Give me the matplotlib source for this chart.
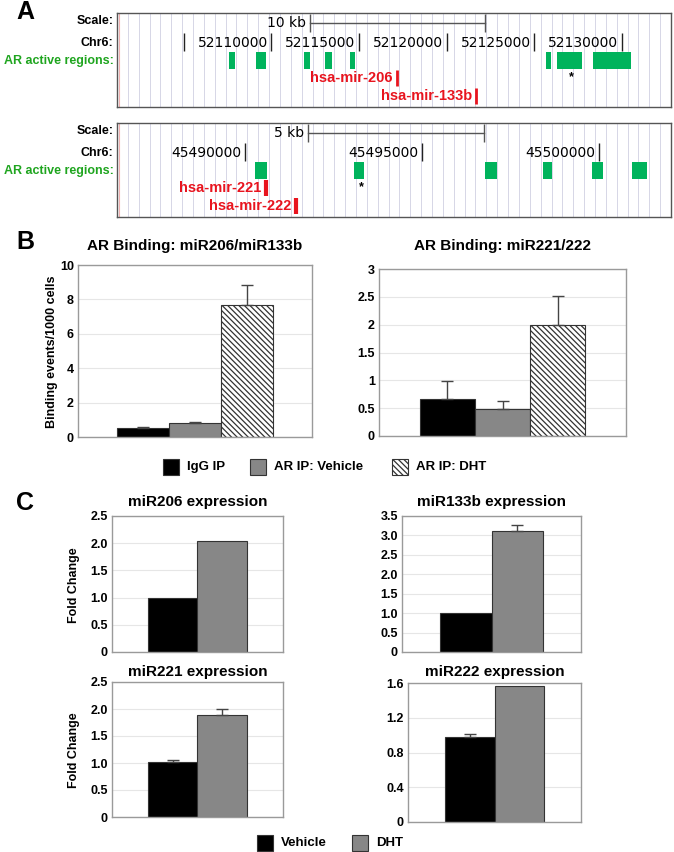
import numpy as np
import matplotlib
matplotlib.use('Agg')
import matplotlib.pyplot as plt
import matplotlib.transforms as mtransforms
from matplotlib.patches import Rectangle

plt.rcParams['font.family'] = ['Liberation Sans', 'DejaVu Sans']
plt.rcParams['hatch.linewidth'] = 0.9

# ---------------- data ----------------
# panel A, upper track (miR206 / miR133b locus)
top_view = (52101180, 52132820)
top_ticks = [52105000, 52110000, 52115000, 52120000, 52125000, 52130000]
top_tick_labels = ['', '52110000', '52115000', '52120000', '52125000', '52130000']
top_scale = (52112200, 52122200)
top_regions = [(52107600, 52107920), (52109140, 52109680), (52111860, 52112180),
               (52113040, 52113480), (52114460, 52114800), (52125680, 52125950),
               (52126290, 52127740), (52128350, 52130530)]
top_star = 52127150
top_mirs = ['hsa-mir-206', 'hsa-mir-133b']
top_mir_pos = [52117150, 52121690]

# panel A, lower track (miR221 / miR222 locus)
bot_view = (45486380, 45502040)
bot_ticks = [45490000, 45495000, 45500000]
bot_tick_labels = ['45490000', '45495000', '45500000']
bot_scale = (45491790, 45496740)
bot_regions = [(45490280, 45490610), (45493080, 45493370), (45496775, 45497130),
               (45498420, 45498680), (45499805, 45500120), (45500930, 45501360)]
bot_star = 45493285
bot_mirs = ['hsa-mir-221', 'hsa-mir-222']
bot_mir_pos = [45490580, 45491430]

# panel B
b_groups = ['IgG IP', 'AR IP: Vehicle', 'AR IP: DHT']
b206_vals = [0.50, 0.81, 7.70]
b206_err = [0.09, 0.05, 1.12]
b221_vals = [0.67, 0.49, 2.00]
b221_err = [0.32, 0.13, 0.52]

# panel C
c_groups = ['Vehicle', 'DHT']
c206_vals = [1.00, 2.04]
c206_err = [0.0, 0.0]
c133b_vals = [1.00, 3.12]
c133b_err = [0.0, 0.16]
c221_vals = [1.02, 1.89]
c221_err = [0.03, 0.11]
c222_vals = [0.975, 1.57]
c222_err = [0.04, 0.0]

W, H = 674.0, 852.0
fig = plt.figure(figsize=(W / 100, H / 100), dpi=100)


def px_rect(x0, y0, x1, y1):
    return [x0 / W, 1 - y1 / H, (x1 - x0) / W, (y1 - y0) / H]


def fig_text(x, y, s, **kw):
    fig.text(x / W, 1 - y / H, s, **kw)


# ---------------- panel A ----------------
GREEN_TXT = '#1fa51f'
GREEN_BOX = '#00b35c'
RED = '#e8141e'


def draw_track(y_top, view, ticks, tick_labels, scale, scale_text,
               regions, star, mirs, mir_pos, mir_lw):
    ax = fig.add_axes(px_rect(117, y_top, 671, y_top + 94))
    ax.set_xlim(view)
    ax.set_ylim(94, 0)
    ax.set_xticks([])
    ax.set_yticks([])
    for s in ax.spines.values():
        s.set_color('#555555')
        s.set_linewidth(1)
    for gx in np.linspace(view[0], view[1], 52)[1:-1]:
        ax.axvline(gx, color='#d6d6e6', lw=0.7, zorder=0)
    ax.axvline(view[0] + (view[1] - view[0]) * 0.003, color='#f0b0b0', lw=0.8, zorder=0)

    trans = mtransforms.blended_transform_factory(ax.transAxes, ax.transData)
    ax.text(-0.006, 8, 'Scale:', transform=trans, ha='right', va='center',
            fontsize=9, fontweight='bold')
    ax.text(-0.006, 30, 'Chr6:', transform=trans, ha='right', va='center',
            fontsize=9, fontweight='bold')
    ax.text(-0.006, 48, 'AR active regions:', transform=trans, ha='right', va='center',
            fontsize=9, fontweight='bold', color=GREEN_TXT)

    # scale bar
    ax.plot(scale, [10, 10], color='#555555', lw=1)
    ax.vlines(scale, 1, 19, color='#555555', lw=1)
    ax.annotate(scale_text, (scale[0], 10), xytext=(-3, 0), textcoords='offset points',
                ha='right', va='center', fontsize=10, family='DejaVu Sans')

    # chromosome coordinates
    ax.vlines(ticks, 20, 38, color='#222222', lw=1)
    for t, lab in zip(ticks, tick_labels):
        ax.annotate(lab, (t, 30), xytext=(-2.5, 0), textcoords='offset points',
                    ha='right', va='center', fontsize=10, family='DejaVu Sans')

    # AR bound regions
    for a, b in regions:
        ax.add_patch(Rectangle((a, 39), b - a, 17, facecolor=GREEN_BOX, lw=0))
    ax.text(star, 64, '*', ha='center', va='center', fontsize=9, fontweight='bold')

    # microRNA genes
    for i, (name, pos) in enumerate(zip(mirs, mir_pos)):
        ax.vlines(pos, 57 + 18 * i, 73 + 18 * i, color=RED, lw=mir_lw)
        ax.annotate(name, (pos, 65 + 18 * i), xytext=(-3, 0), textcoords='offset points',
                    ha='right', va='center', fontsize=10.5, fontweight='bold', color=RED)


draw_track(13, top_view, top_ticks, top_tick_labels, top_scale, '10 kb',
           top_regions, top_star, top_mirs, top_mir_pos, 2)
draw_track(123, bot_view, bot_ticks, bot_tick_labels, bot_scale, '5 kb',
           bot_regions, bot_star, bot_mirs, bot_mir_pos, 3)

# ---------------- bar panels ----------------
GRAY = '#878787'
HATCH = '\\\\\\\\\\\\'


def bar_panel(rect, vals, errs, colors, hatches, ylim, yticks, yticklabels,
              title, title_y):
    ax = fig.add_axes(px_rect(*rect))
    x = np.arange(len(vals))
    ax.bar(x, vals, width=1, color=colors, edgecolor='#333333', lw=0.8,
           hatch=hatches, zorder=2)
    errs = np.asarray(errs)
    m = errs > 0
    ax.errorbar(x[m], np.asarray(vals)[m], yerr=[np.zeros(m.sum()), errs[m]],
                fmt='none', ecolor='#444444', elinewidth=1, capsize=4, capthick=1, zorder=3)
    ax.set_xlim(-1.24, len(vals) - 1 + 1.24)
    ax.set_ylim(ylim)
    ax.set_yticks(yticks)
    ax.set_yticklabels(yticklabels, fontsize=9, fontweight='bold')
    ax.set_xticks([])
    ax.tick_params(axis='y', length=0, pad=3)
    ax.yaxis.grid(True, color='#e6e6e6', lw=0.8)
    ax.set_axisbelow(True)
    for s in ax.spines.values():
        s.set_color('#9a9a9a')
        s.set_linewidth(1)
    fig_text((rect[0] + rect[2]) / 2, title_y, title, ha='center', va='center',
             fontsize=11, fontweight='bold')
    return ax


b_colors = ['black', GRAY, 'white']
b_hatches = [None, None, HATCH]
bar_panel((78, 265, 312, 437), b206_vals, b206_err, b_colors, b_hatches,
          (0, 10), [0, 2, 4, 6, 8, 10], ['0', '2', '4', '6', '8', '10'],
          'AR Binding: miR206/miR133b', 246)
bar_panel((379, 269, 626, 436), b221_vals, b221_err, b_colors, b_hatches,
          (0, 3), [0, 0.5, 1, 1.5, 2, 2.5, 3], ['0', '0.5', '1', '1.5', '2', '2.5', '3'],
          'AR Binding: miR221/222', 246)
fig_text(52, 352, 'Binding events/1000 cells', rotation=90, ha='center', va='center',
         fontsize=9, fontweight='bold')

c_colors = ['black', GRAY]
c_hatches = [None, None]
bar_panel((112, 516, 283, 652), c206_vals, c206_err, c_colors, c_hatches,
          (0, 2.5), [0, 0.5, 1, 1.5, 2, 2.5], ['0', '0.5', '1.0', '1.5', '2.0', '2.5'],
          'miR206 expression', 502)
bar_panel((402, 516, 581, 652), c133b_vals, c133b_err, c_colors, c_hatches,
          (0, 3.5), [0, 0.5, 1, 1.5, 2, 2.5, 3, 3.5],
          ['0', '0.5', '1.0', '1.5', '2.0', '2.5', '3.0', '3.5'],
          'miR133b expression', 502)
bar_panel((112, 682, 283, 817), c221_vals, c221_err, c_colors, c_hatches,
          (0, 2.5), [0, 0.5, 1, 1.5, 2, 2.5], ['0', '0.5', '1.0', '1.5', '2.0', '2.5'],
          'miR221 expression', 672)
bar_panel((408, 683, 581, 822), c222_vals, c222_err, c_colors, c_hatches,
          (0, 1.6), [0, 0.4, 0.8, 1.2, 1.6], ['0', '0.4', '0.8', '1.2', '1.6'],
          'miR222 expression', 672)
fig_text(74, 585, 'Fold Change', rotation=90, ha='center', va='center',
         fontsize=9, fontweight='bold')
fig_text(74, 750, 'Fold Change', rotation=90, ha='center', va='center',
         fontsize=9, fontweight='bold')


# ---------------- legends ----------------
def legend_item(x, y, label, color, hatch=None):
    fig.patches.append(Rectangle((x / W, 1 - (y + 8) / H), 16 / W, 16 / H,
                                 transform=fig.transFigure, facecolor=color,
                                 edgecolor='#333333', lw=0.8, hatch=hatch))
    fig_text(x + 24, y, label, ha='left', va='center', fontsize=9.5, fontweight='bold')


for lx, lab, col, h in zip([163, 250, 392], b_groups, b_colors, b_hatches):
    legend_item(lx, 467, lab, col, h)
for lx, lab, col in zip([257, 352], c_groups, c_colors):
    legend_item(lx, 843, lab, col)

# panel letters
fig_text(16, 12, 'A', fontsize=18, fontweight='bold', ha='left', va='center')
fig_text(16, 242, 'B', fontsize=18, fontweight='bold', ha='left', va='center')
fig_text(16, 503, 'C', fontsize=18, fontweight='bold', ha='left', va='center')

fig.savefig('out.png', dpi=100)
